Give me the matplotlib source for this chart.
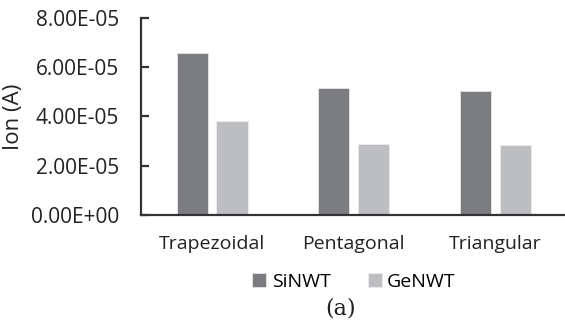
import numpy as np
import matplotlib
matplotlib.use("Agg")
from matplotlib import pyplot as plt
from matplotlib.ticker import FuncFormatter

# data
categories = ["Trapezoidal", "Pentagonal", "Triangular"]
si_nwt = [6.55e-05, 5.16e-05, 5.04e-05]
ge_nwt = [3.80e-05, 2.88e-05, 2.83e-05]
y_ticks = [0.0, 2e-05, 4e-05, 6e-05, 8e-05]

plt.rcParams['font.family'] = ['Open Sans', 'DejaVu Sans']

fig = plt.figure(figsize=(5.65, 3.25), dpi=100)
ax = fig.add_axes([0.250, 0.338, 0.752, 0.608])

x = np.arange(len(categories))
w = 0.22
off = 0.141
ax.bar(x - off, si_nwt, w, color='#7b7c80', edgecolor='#e6e6e6', linewidth=0.6, label='SiNWT')
ax.bar(x + off, ge_nwt, w, color='#bdbec1', edgecolor='#ececec', linewidth=0.6, label='GeNWT')

ax.set_xlim(-0.5, 2.5)
ax.set_ylim(0, 8e-05)
ax.set_yticks(y_ticks)
ax.yaxis.set_major_formatter(FuncFormatter(lambda v, p: ('%.2E' % v)))
ax.set_xticks(x)
ax.set_xticklabels(categories, fontsize=14, color='#222222')

for s in ['top', 'right']:
	ax.spines[s].set_visible(False)
ax.spines['left'].set_linewidth(1.6)
ax.spines['bottom'].set_linewidth(1.6)
ax.spines['left'].set_color('#333333')
ax.spines['bottom'].set_color('#333333')
ax.tick_params(axis='y', direction='in', length=6, width=1.6, color='#333333', labelsize=15, pad=16, labelcolor='#222222')
ax.tick_params(axis='x', length=0, pad=14)

ax.set_ylabel('Ion (A)', fontsize=16, color='#222222', va='center')
ax.yaxis.set_label_coords(-0.300, 0.5)

ax.legend(loc='center', bbox_to_anchor=(0.501, -0.338), ncol=2, frameon=False,
	fontsize=14, handlelength=0.72, handleheight=0.72, handletextpad=0.28, columnspacing=1.9,
	borderaxespad=0, borderpad=0)

fig.text(0.602, 0.05, '(a)', family=['DejaVu Serif'], fontsize=16, ha='center', va='center', color='#222222')

fig.savefig('out.png', dpi=100, facecolor='white')
